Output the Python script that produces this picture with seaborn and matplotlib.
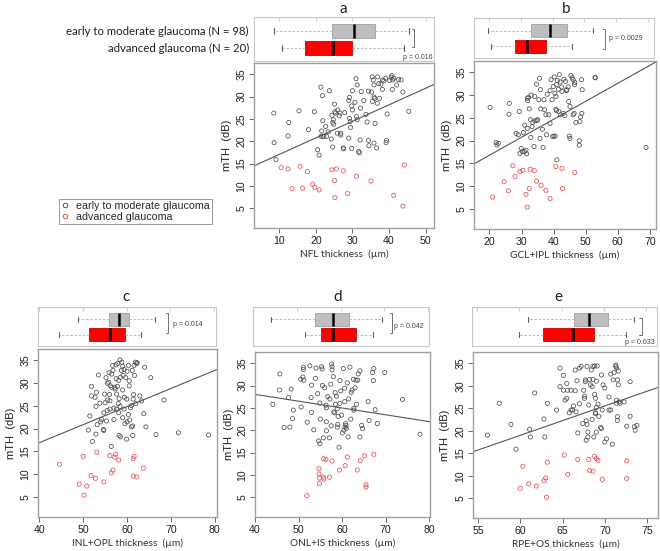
import numpy as np
import pandas as pd
import seaborn as sns
import matplotlib.pyplot as plt
from matplotlib.lines import Line2D

# ---- scatter data: [thickness (um), mTH (dB)] ----
nfl_early = np.array([
    [8.5, 26.3], [8.6, 19.7], [9.1, 15.9], [12.6, 24.2], [12.4, 21.2], [15.4, 26.8], [18.0, 22.6],
    [19.6, 26.6], [20.5, 18.1], [20.9, 16.9], [21.4, 32.1], [21.8, 30.2], [21.9, 24.6], [21.4, 21.1],
    [21.9, 21.1], [21.6, 22.3], [22.2, 21.1], [22.7, 23.3], [22.9, 21.1], [23.4, 22.1], [23.7, 31.3],
    [24.2, 20.5], [24.6, 18.7], [24.6, 24.2], [24.8, 24.8], [24.9, 23.8], [24.4, 25.8], [25.1, 28.3],
    [25.4, 26.3], [26.0, 27.0], [26.4, 25.7], [26.6, 26.3], [26.8, 21.8], [26.8, 21.4], [27.5, 18.5],
    [27.6, 18.3], [29.0, 29.1], [29.2, 29.8], [29.0, 20.7], [29.4, 24.4], [29.2, 25.1], [29.5, 23.1],
    [29.8, 27.9], [30.0, 27.0], [30.0, 31.3], [29.8, 18.4], [30.7, 28.7], [31.0, 34.0], [31.3, 32.6],
    [31.1, 25.5], [31.3, 24.8], [31.7, 17.7], [31.9, 17.4], [32.2, 27.4], [32.4, 31.1], [33.1, 29.1],
    [33.7, 26.0], [34.4, 31.2], [34.0, 24.3], [34.4, 20.2], [34.5, 19.0], [35.2, 31.0], [35.4, 34.4],
    [35.7, 33.7], [35.9, 32.6], [35.5, 28.9], [35.9, 29.9], [36.1, 29.6], [35.9, 19.6], [36.2, 24.0],
    [36.6, 18.5], [36.8, 28.5], [36.9, 34.4], [37.2, 32.9], [37.8, 32.8], [38.2, 31.6], [38.2, 33.7],
    [38.6, 33.5], [39.1, 34.1], [39.2, 19.7], [39.3, 20.2], [39.5, 26.1], [40.2, 33.6], [40.6, 34.3],
    [40.8, 34.7], [40.9, 31.6], [41.3, 34.1], [41.0, 33.7], [42.1, 32.6], [42.6, 33.8], [43.3, 33.7],
    [43.8, 31.0], [45.4, 26.7], [25.2, 26.6], [27.9, 26.4], [25.9, 21.8], [32.1, 20.3], [37.4, 29.6],
])
nfl_adv = np.array([
    [10.5, 14.1], [12.4, 13.8], [15.7, 14.4], [17.7, 13.2], [13.5, 9.4], [16.4, 9.5], [19.1, 10.4],
    [19.7, 9.7], [20.9, 9.1], [24.4, 13.6], [25.6, 13.8], [27.5, 13.4], [25.1, 11.2], [31.1, 12.2],
    [35.1, 11.1], [25.2, 7.4], [28.7, 8.3], [41.3, 7.9], [43.8, 5.5], [44.2, 14.7],
])

gcl_early = np.array([
    [20.2, 27.3], [22.1, 19.6], [22.3, 19.1], [22.8, 19.4], [26.2, 28.2], [26.1, 25.8], [28.3, 21.6],
    [29.0, 21.3], [29.5, 17.2], [29.9, 18.3], [30.2, 17.6], [30.6, 21.8], [30.9, 17.6], [31.4, 17.9],
    [31.6, 17.1], [31.8, 22.7], [31.9, 28.8], [32.2, 29.5], [32.4, 27.0], [32.8, 24.6], [31.8, 29.3],
    [32.9, 20.7], [33.3, 23.1], [33.5, 24.0], [33.9, 18.7], [34.1, 29.7], [34.7, 32.4], [34.8, 24.4],
    [35.0, 24.6], [35.4, 29.0], [35.6, 33.7], [35.8, 20.5], [35.9, 31.2], [36.5, 22.5], [36.7, 18.5],
    [37.0, 29.0], [37.2, 26.8], [37.6, 25.7], [37.8, 21.3], [38.5, 25.7], [38.9, 23.8], [38.9, 31.0],
    [39.2, 33.4], [39.5, 29.0], [39.7, 20.9], [39.9, 31.9], [40.1, 21.0], [40.2, 34.0], [40.4, 30.4],
    [40.7, 29.7], [40.7, 26.9], [40.9, 26.6], [40.9, 32.3], [41.2, 33.2], [41.5, 31.3], [41.6, 26.4],
    [41.8, 34.5], [42.0, 32.9], [42.2, 25.7], [42.5, 31.8], [42.6, 30.8], [43.0, 26.0], [43.2, 33.5],
    [43.7, 33.0], [44.1, 31.2], [44.5, 31.8], [44.7, 28.6], [44.9, 21.0], [45.1, 20.5], [45.1, 27.5],
    [45.4, 34.3], [45.8, 33.8], [46.1, 33.4], [46.5, 32.3], [46.1, 25.7], [46.4, 26.0], [46.6, 32.8],
    [46.9, 24.0], [48.0, 20.0], [48.0, 19.0], [48.2, 24.2], [48.4, 25.2], [48.7, 33.4], [48.9, 31.2],
    [48.8, 26.0], [52.9, 33.9], [53.0, 33.8], [68.8, 18.5], [34.2, 24.4], [29.3, 26.4], [33.0, 30.0],
    [36.0, 27.0], [41.0, 15.8], [38.0, 30.2], [31.0, 23.4], [44.0, 31.0], [43.5, 25.5], [40.5, 21.0],
])
gcl_adv = np.array([
    [21.0, 7.6], [24.6, 11.0], [25.9, 9.0], [27.3, 14.5], [28.0, 12.1], [29.5, 13.2], [30.4, 13.5],
    [31.4, 8.2], [31.8, 5.4], [32.4, 9.5], [32.7, 13.7], [34.0, 13.4], [34.7, 11.1], [36.1, 10.2],
    [37.6, 9.1], [38.9, 7.3], [40.7, 14.3], [42.6, 13.9], [42.8, 9.5], [46.6, 13.0],
])

inl_early = np.array([
    [51.5, 22.8], [51.2, 19.7], [51.9, 27.2], [51.9, 29.3], [52.1, 17.2], [52.9, 24.9], [52.9, 18.8],
    [53.2, 20.9], [53.5, 31.8], [53.8, 25.6], [54.2, 22.0], [54.6, 19.8], [54.7, 19.6], [54.7, 23.5],
    [55.0, 25.7], [54.9, 27.6], [55.2, 31.2], [55.3, 21.7], [55.5, 30.0], [55.6, 26.3], [55.8, 30.2],
    [55.9, 32.3], [56.1, 26.1], [56.1, 24.3], [56.2, 29.4], [56.4, 16.1], [56.5, 29.1], [56.7, 33.9],
    [56.8, 32.8], [57.0, 22.0], [57.2, 29.1], [57.3, 28.7], [57.5, 34.0], [57.6, 27.6], [57.6, 24.3],
    [57.8, 29.3], [57.9, 34.3], [58.1, 30.6], [58.1, 23.5], [58.2, 26.6], [58.2, 18.5], [58.4, 35.1],
    [58.4, 24.9], [58.5, 31.3], [58.5, 18.2], [58.7, 32.8], [58.8, 34.6], [59.0, 22.4], [59.0, 33.7],
    [59.1, 31.7], [59.3, 24.3], [59.3, 33.0], [59.4, 26.9], [59.5, 21.1], [59.7, 31.2], [59.9, 26.5],
    [59.9, 17.7], [60.0, 32.6], [60.3, 23.1], [60.3, 33.9], [60.5, 29.4], [60.6, 21.9], [60.8, 24.6],
    [61.0, 20.4], [61.0, 25.1], [61.2, 32.8], [61.3, 18.5], [61.3, 20.6], [61.4, 26.5], [61.6, 33.9],
    [61.7, 31.7], [61.9, 34.6], [62.2, 34.3], [62.3, 34.5], [62.9, 27.2], [63.3, 26.1], [63.8, 23.3],
    [64.0, 33.5], [64.3, 20.4], [65.4, 31.2], [66.6, 18.7], [68.4, 26.3], [71.7, 19.1], [78.6, 18.6],
    [52.7, 26.9], [54.0, 21.5], [56.0, 27.5], [57.5, 31.0], [59.0, 28.5], [60.5, 30.5], [58.0, 25.5],
    [55.5, 24.0], [62.0, 25.5], [57.0, 24.5], [60.0, 21.5], [56.5, 32.0], [53.0, 28.0], [61.5, 27.5],
])
inl_adv = np.array([
    [44.6, 12.2], [50.0, 13.9], [49.1, 7.8], [50.2, 5.4], [50.8, 7.4], [51.8, 9.7], [52.8, 9.1],
    [53.1, 14.8], [54.7, 8.3], [56.1, 14.1], [56.4, 10.3], [56.8, 10.9], [57.2, 13.7], [57.4, 14.4],
    [58.1, 13.1], [61.4, 13.4], [61.6, 13.9], [61.4, 9.6], [62.2, 9.4], [63.7, 11.3],
])

onl_early = np.array([
    [44.1, 25.8], [45.7, 32.6], [45.6, 29.0], [46.7, 20.6], [47.7, 27.3], [48.0, 20.7], [48.3, 29.2],
    [48.8, 24.5], [48.6, 22.6], [50.5, 31.4], [50.6, 25.2], [51.0, 31.9], [51.1, 34.1], [51.1, 33.6],
    [51.2, 31.2], [52.0, 21.8], [52.6, 34.4], [52.9, 27.3], [53.0, 30.1], [53.5, 20.1], [54.0, 33.9],
    [53.9, 31.6], [54.4, 28.2], [54.6, 17.6], [54.9, 17.0], [54.9, 26.1], [55.3, 34.2], [55.4, 33.7],
    [55.5, 30.0], [55.7, 18.3], [56.3, 25.6], [56.4, 19.9], [56.4, 21.9], [56.4, 25.0], [56.7, 27.5],
    [57.1, 18.3], [57.2, 27.0], [57.4, 30.3], [57.6, 34.8], [57.7, 33.5], [57.7, 34.2], [58.1, 24.1],
    [58.3, 23.9], [58.4, 28.4], [58.5, 25.8], [58.7, 27.6], [58.9, 20.7], [59.0, 21.3], [58.9, 24.8],
    [59.1, 23.1], [59.3, 16.2], [59.5, 31.1], [59.7, 28.8], [59.9, 23.4], [60.1, 19.4], [60.3, 33.8],
    [60.4, 20.0], [60.6, 29.4], [60.6, 26.4], [60.7, 20.7], [60.8, 21.5], [60.9, 21.1], [61.0, 20.4],
    [61.2, 30.6], [61.4, 18.5], [61.8, 34.1], [62.1, 28.5], [62.3, 29.0], [62.6, 31.4], [62.7, 24.5],
    [62.7, 24.9], [63.2, 31.2], [63.3, 25.8], [63.6, 31.2], [63.7, 32.6], [64.1, 33.3], [64.1, 18.5],
    [64.5, 21.1], [64.7, 20.4], [66.0, 26.4], [66.2, 22.2], [67.0, 32.9], [67.3, 33.8], [67.2, 31.1],
    [67.6, 24.6], [68.1, 21.5], [69.8, 32.9], [73.9, 26.9], [77.9, 19.1], [56.0, 29.5], [59.5, 26.0],
    [62.0, 22.5], [53.0, 24.0], [57.5, 21.0], [61.5, 27.0], [55.0, 22.5], [63.0, 29.5], [58.0, 32.0],
])
onl_adv = np.array([
    [51.9, 5.4], [54.7, 11.4], [54.7, 10.2], [54.8, 9.3], [54.8, 8.1], [55.7, 9.5], [55.8, 9.1],
    [55.8, 13.6], [56.3, 13.5], [57.1, 9.5], [57.7, 13.1], [59.4, 11.1], [60.7, 12.1], [61.2, 14.0],
    [63.5, 11.1], [64.2, 13.2], [65.2, 14.3], [65.5, 7.8], [65.5, 7.3], [67.3, 14.6],
])

rpe_early = np.array([
    [56.1, 19.0], [57.5, 26.1], [58.9, 21.4], [59.5, 15.9], [61.1, 20.3], [61.2, 18.6], [61.7, 28.4],
    [62.8, 22.6], [62.9, 18.6], [63.2, 26.1], [64.3, 24.6], [64.7, 33.9], [64.7, 29.8], [65.1, 32.3],
    [65.1, 29.0], [65.3, 26.8], [65.5, 27.2], [65.6, 29.0], [65.8, 24.0], [66.0, 24.6], [66.2, 24.6],
    [66.3, 25.5], [66.5, 28.9], [66.6, 24.2], [66.7, 31.1], [66.8, 19.5], [67.0, 33.9], [67.2, 34.3],
    [67.4, 21.6], [67.5, 29.0], [67.6, 27.7], [67.6, 27.2], [67.7, 31.3], [67.7, 30.9], [67.8, 17.9],
    [67.9, 34.3], [67.8, 22.2], [67.9, 21.4], [68.0, 18.6], [68.0, 19.7], [68.1, 25.7], [68.2, 31.4],
    [68.3, 30.2], [68.4, 33.5], [68.5, 29.8], [68.6, 34.3], [68.6, 31.4], [68.7, 18.6], [68.8, 34.4],
    [68.8, 28.1], [68.9, 27.2], [68.9, 24.0], [68.9, 23.8], [69.0, 19.7], [69.0, 25.2], [69.1, 34.4],
    [69.2, 25.9], [69.3, 23.2], [69.5, 20.7], [69.6, 20.5], [69.6, 32.4], [69.7, 24.6], [69.8, 30.2],
    [70.0, 17.5], [70.2, 18.2], [70.5, 24.6], [70.7, 32.6], [70.7, 24.6], [70.9, 17.0], [71.0, 31.3],
    [71.1, 32.9], [71.3, 34.6], [71.3, 34.3], [71.4, 33.9], [71.4, 26.8], [71.4, 26.1], [71.5, 23.1],
    [71.5, 22.3], [71.5, 31.3], [71.6, 30.2], [71.6, 33.3], [71.7, 26.4], [71.8, 26.1], [72.3, 26.4],
    [72.6, 21.0], [73.0, 30.9], [73.0, 23.2], [73.5, 20.9], [73.6, 20.1], [73.8, 21.2], [66.0, 29.0],
    [70.0, 29.5], [67.0, 26.0], [69.0, 31.0], [65.5, 30.5], [70.5, 27.5], [68.5, 22.5], [66.5, 33.5],
])
rpe_adv = np.array([
    [60.0, 7.2], [60.3, 12.1], [61.0, 8.2], [61.9, 7.7], [62.8, 8.9], [63.0, 9.5], [63.1, 5.2],
    [63.2, 13.0], [65.2, 14.6], [65.6, 10.3], [66.8, 13.6], [68.1, 13.6], [68.2, 11.2], [68.6, 11.0],
    [68.8, 14.3], [69.0, 13.8], [69.2, 13.4], [69.7, 9.2], [72.6, 13.3], [72.6, 9.4],
])

# ---- boxplot stats: whisker low, q1, median, q3, whisker high ----
nfl_box_early = [8.6, 24.5, 30.5, 36.3, 45.4]
nfl_box_adv = [10.7, 17.0, 24.8, 29.8, 44.1]
gcl_box_early = [19.7, 33.0, 39.2, 44.4, 52.6]
gcl_box_adv = [20.4, 28.0, 31.8, 37.9, 46.1]
inl_box_early = [48.9, 55.9, 58.2, 60.5, 66.5]
inl_box_adv = [44.6, 51.3, 56.3, 59.7, 63.3]
onl_box_early = [44.0, 54.2, 58.2, 62.0, 69.4]
onl_box_adv = [51.9, 55.5, 58.2, 63.6, 67.4]
rpe_box_early = [61.0, 66.5, 68.3, 70.5, 73.6]
rpe_box_adv = [60.0, 62.8, 66.4, 68.8, 72.6]

p_labels = ['p = 0.016', 'p = 0.0029', 'p = 0.014', 'p = 0.042', 'p = 0.033']
# regression line: intercept, slope
fit_lines = [(13.35, 0.37), (8.9, 0.395), (1.04, 0.397), (34.1, -0.152), (-20.2, 0.653)]
x_labels = ['NFL thickness  (µm)', 'GCL+IPL thickness  (µm)', 'INL+OPL thickness  (µm)',
            'ONL+IS thickness  (µm)', 'RPE+OS thickness  (µm)']
panel_letters = ['a', 'b', 'c', 'd', 'e']
group_labels = ['early to moderate glaucoma', 'advanced glaucoma']

W, H = 660, 551


def fr(x0, y0, x1, y1):
    # pixel box -> figure fraction rect
    return [x0 / W, 1 - y1 / H, (x1 - x0) / W, (y1 - y0) / H]


panels = [
    dict(early=nfl_early, adv=nfl_adv, box=(nfl_box_early, nfl_box_adv), xlim=(3.1, 52.3),
         xticks=np.arange(10, 51, 10), boxr=fr(254, 17, 434, 61), scr=fr(254, 63, 434, 228),
         title=(343, 9), br=(0.889, 0.727, 0.318), pt=(0.99, 0.09, 'right')),
    dict(early=gcl_early, adv=gcl_adv, box=(gcl_box_early, gcl_box_adv), xlim=(15.2, 71.9),
         xticks=np.arange(20, 71, 10), boxr=fr(474, 18, 654, 58), scr=fr(474, 61, 656, 229),
         title=(566, 9), br=(0.728, 0.725, 0.23), pt=(0.75, 0.5, 'left')),
    dict(early=inl_early, adv=inl_adv, box=(inl_box_early, inl_box_adv), xlim=(39.7, 80.5),
         xticks=np.arange(40, 81, 10), boxr=fr(38, 307, 216, 346), scr=fr(38, 349, 217, 517),
         title=(126, 297), br=(0.73, 0.85, 0.33), pt=(0.756, 0.54, 'left')),
    dict(early=onl_early, adv=onl_adv, box=(onl_box_early, onl_box_adv), xlim=(40.0, 80.2),
         xticks=np.arange(40, 81, 10), boxr=fr(253, 307, 429, 346), scr=fr(255, 352, 430, 517),
         title=(338, 297), br=(0.788, 0.85, 0.33), pt=(0.80, 0.49, 'left')),
    dict(early=rpe_early, adv=rpe_adv, box=(rpe_box_early, rpe_box_adv), xlim=(54.4, 76.3),
         xticks=np.arange(55, 76, 5), boxr=fr(472, 307, 657, 346), scr=fr(473, 352, 658, 518),
         title=(558, 297), br=(0.917, 0.72, 0.28), pt=(0.99, 0.1, 'right')),
]

sns.set_style("white")
plt.rcParams['font.family'] = ['Liberation Sans', 'DejaVu Sans']

gray_pt = '#505050'
red_pt = '#e24e4e'
frame_col = '#a0a0a0'

fig = plt.figure(figsize=(6.6, 5.51), dpi=100)

for i, p in enumerate(panels):
    # ---------- boxplot strip ----------
    bax = fig.add_axes(p['boxr'])
    st = []
    for row in p['box'][::-1]:
        st.append(dict(whislo=row[0], q1=row[1], med=row[2], q3=row[3], whishi=row[4], fliers=[]))
    bp = bax.bxp(st, positions=[1, 2], widths=0.85, vert=False, patch_artist=True,
                 showfliers=False, capwidths=0.35,
                 whiskerprops=dict(linestyle=(0, (3, 2)), color='#b0b0b0', lw=0.6),
                 capprops=dict(color='#606060', lw=0.8),
                 medianprops=dict(color='black', lw=1.8),
                 boxprops=dict(lw=0.6))
    bp['boxes'][0].set_facecolor('#ff0000')
    bp['boxes'][0].set_edgecolor('#d00000')
    bp['boxes'][1].set_facecolor('#bebebe')
    bp['boxes'][1].set_edgecolor('#a0a0a0')
    bax.set_xlim(p['xlim'])
    bax.set_ylim(0.24, 2.82)
    bax.set_yticks([])
    bax.set_xticks(p['xticks'])
    bax.tick_params(axis='x', top=True, bottom=False, labeltop=False, labelbottom=False,
                    direction='in', length=3, color='#d0d0d0')
    for s in bax.spines.values():
        s.set_color('#c8c8c8')
        s.set_linewidth(0.8)
    bx, by0, by1 = p['br']
    bax.plot([bx - 0.012, bx, bx, bx - 0.012], [by0, by0, by1, by1], color='#707070', lw=0.7,
             transform=bax.transAxes, clip_on=False)
    px, py, pha = p['pt']
    bax.text(px, py, p_labels[i], transform=bax.transAxes, ha=pha, va='center', fontsize=5,
             color='#404040')

    # ---------- scatter ----------
    ax = fig.add_axes(p['scr'])
    df = pd.concat([
        pd.DataFrame({'thick': p['early'][:, 0], 'mth': p['early'][:, 1], 'group': group_labels[0]}),
        pd.DataFrame({'thick': p['adv'][:, 0], 'mth': p['adv'][:, 1], 'group': group_labels[1]}),
    ], ignore_index=True)
    sns.scatterplot(data=df, x='thick', y='mth', hue='group',
                    palette={group_labels[0]: gray_pt, group_labels[1]: red_pt},
                    s=9, linewidth=0.55, legend=False, ax=ax)
    pts = ax.collections[0]
    pts.set_edgecolors(pts.get_facecolors())
    pts.set_facecolors('none')
    ax.set_xlim(p['xlim'])
    ax.set_ylim(0.6, 37.5)
    b0, m = fit_lines[i]
    ax.axline((p['xlim'][0], b0 + m * p['xlim'][0]), slope=m, color='#555555', lw=0.8)
    ax.set_xticks(p['xticks'])
    ax.set_yticks(np.arange(5, 36, 5))
    ax.tick_params(axis='both', length=3.5, width=0.6, color='#505050', labelsize=7.6,
                   pad=2, left=True, bottom=True, labelcolor='#202020')
    ax.tick_params(axis='y', labelrotation=90)
    for lab in ax.get_yticklabels():
        lab.set_va('center')
    for s in ax.spines.values():
        s.set_color(frame_col)
        s.set_linewidth(1.0)
    ax.set_xlabel(x_labels[i], fontsize=7.3, family=['Lato', 'DejaVu Sans'], color='#303030',
                  va='center')
    ax.xaxis.set_label_coords(0.5, -0.158)
    ax.set_ylabel('mTH  (dB)', fontsize=8, color='#202020', va='center')
    ax.yaxis.set_label_coords(-0.15, 0.5)

    tx, ty = p['title']
    fig.text(tx / W, 1 - ty / H, panel_letters[i], fontsize=11, ha='center', va='center',
             family=['Lato', 'DejaVu Sans'], color='#202020')

# row labels left of the first boxplot strip
fig.text(249 / W, 1 - 31 / H, 'early to moderate glaucoma (N = 98)', ha='right', va='center',
         fontsize=8.2, family=['Lato', 'DejaVu Sans'], color='#202020')
fig.text(249 / W, 1 - 48 / H, 'advanced glaucoma (N = 20)', ha='right', va='center',
         fontsize=8.2, family=['Lato', 'DejaVu Sans'], color='#202020')

handles = [Line2D([], [], marker='o', ls='none', mfc='none', mec=gray_pt, ms=3.2, mew=0.7),
           Line2D([], [], marker='o', ls='none', mfc='none', mec=red_pt, ms=3.2, mew=0.7)]
leg = fig.legend(handles, group_labels, loc='upper left', bbox_to_anchor=(59 / W, 1 - 199 / H),
                 borderaxespad=0, fontsize=7.7, frameon=True, fancybox=False,
                 handlelength=0.8, handletextpad=0.6, borderpad=0.2, labelspacing=0.1)
leg.get_frame().set_edgecolor('#808080')
leg.get_frame().set_linewidth(0.7)

fig.savefig('out.png', dpi=100)
